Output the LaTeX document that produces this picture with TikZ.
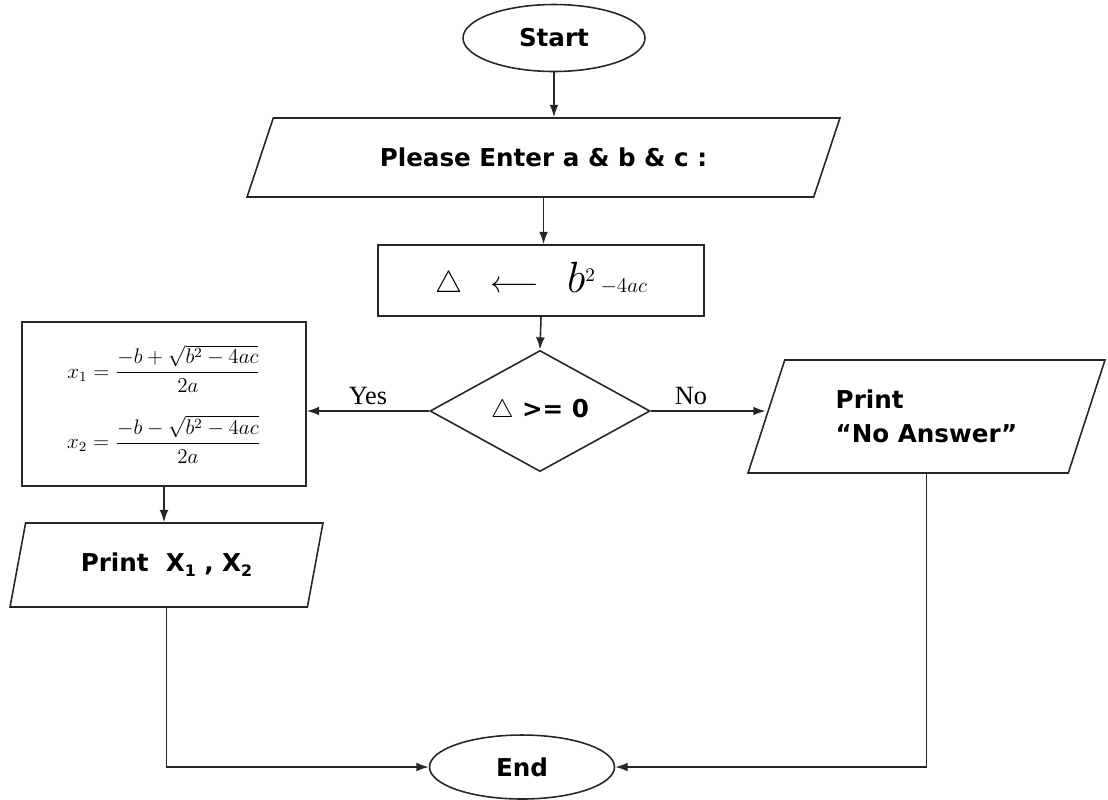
\documentclass[tikz,border=0pt]{standalone}
\usepackage{amsmath, amssymb}
\usepackage{fontspec}
\usepackage{tikz}
\usetikzlibrary{positioning, arrows.meta, calc, shapes.geometric}
\newfontfamily\flowfont{DejaVu Sans}
\newfontfamily\labelfont{Liberation Serif}
\newcommand{\lowsub}[1]{\raisebox{-3pt}{\fontsize{9}{9}\selectfont #1}}
\tikzset{
    terminal/.style={
        ellipse,
        draw=black!85,
        line width=0.9pt,
        inner sep=0pt,
        font=\flowfont\bfseries\fontsize{14}{17}\selectfont
    },
    iobox/.style={
        trapezium,
        trapezium stretches body,
        draw=black!85,
        line width=0.9pt,
        inner sep=0pt,
        font=\flowfont\bfseries\fontsize{14}{19}\selectfont
    },
    procbox/.style={
        rectangle,
        draw=black!85,
        line width=0.9pt,
        inner sep=0pt
    },
    decision/.style={
        diamond,
        draw=black!85,
        line width=0.9pt,
        inner sep=0pt,
        font=\flowfont\bfseries\fontsize{14}{17}\selectfont
    },
    flow/.style={
        draw=black!85,
        line width=0.9pt,
        -{Latex[length=7pt,width=5pt]}
    },
    branch/.style={
        font=\labelfont\fontsize{15}{17}\selectfont
    }
}

\begin{document}
\begin{tikzpicture}[x=0.02cm, y=-0.02cm]

      \useasboundingbox (0,0) rectangle (1108,799);

      % terminals
      \node[terminal, minimum width=3.64cm, minimum height=1.34cm] (start) at (554,38) {Start};
      \node[terminal, minimum width=3.7cm, minimum height=1.28cm] (end) at (522,767) {End};

      % input and process
      \node[iobox, trapezium left angle=36, trapezium right angle=144,
            minimum width=11.86cm, minimum height=1.58cm] (input) at (543.5,157.5)
            {Please Enter a \& b \& c :};
      \node[procbox, minimum width=6.52cm, minimum height=1.42cm,
            font=\fontsize{16}{18}\selectfont] (calc) at (541,280.5)
            {$\triangle$\quad$\longleftarrow$\quad{\fontsize{30}{30}\selectfont$b$}$^{2}$\,{\fontsize{12}{14}\selectfont$-4ac$}};

      % decision
      \node[decision, minimum width=4.4cm, minimum height=2cm] (cond) at (540,411)
            {$\triangle$ >= 0};

      % yes branch
      \node[procbox, minimum width=5.68cm, minimum height=3.28cm, align=center,
            font=\fontsize{12}{14}\selectfont] (roots) at (164,404)
            {$x_1 = \dfrac{-b+\sqrt{b^2-4ac}}{2a}$\\[12pt]
             $x_2 = \dfrac{-b-\sqrt{b^2-4ac}}{2a}$};
      \node[iobox, trapezium left angle=57, trapezium right angle=123,
            minimum width=6.26cm, minimum height=1.68cm] (printx) at (166.5,565)
            {Print\ \ X\lowsub{1} , X\lowsub{2}};

      % no branch
      \node[iobox, trapezium left angle=55, trapezium right angle=125, align=left,
            minimum width=7.14cm, minimum height=2.26cm] (noans) at (926.5,416.5)
            {Print\\“No Answer”};

      \draw[flow] (start.south) -- (start.south |- input.north);
      \draw[flow] (input.south) -- (input.south |- calc.north);
      \draw[flow] (calc.south) -- (cond.north);
      \draw[flow] (cond.west) -- node[branch, above] {Yes} (cond.west -| roots.east);
      \draw[flow] (cond.east) -- node[branch, above, pos=0.35] {No} (cond.east -| noans.west);
      \draw[flow] (roots.south) -- (roots.south |- printx.north);
      \draw[flow] (printx.south) |- (end.west);
      \draw[flow] (noans.south) |- (end.east);

    \end{tikzpicture}
\end{document}
